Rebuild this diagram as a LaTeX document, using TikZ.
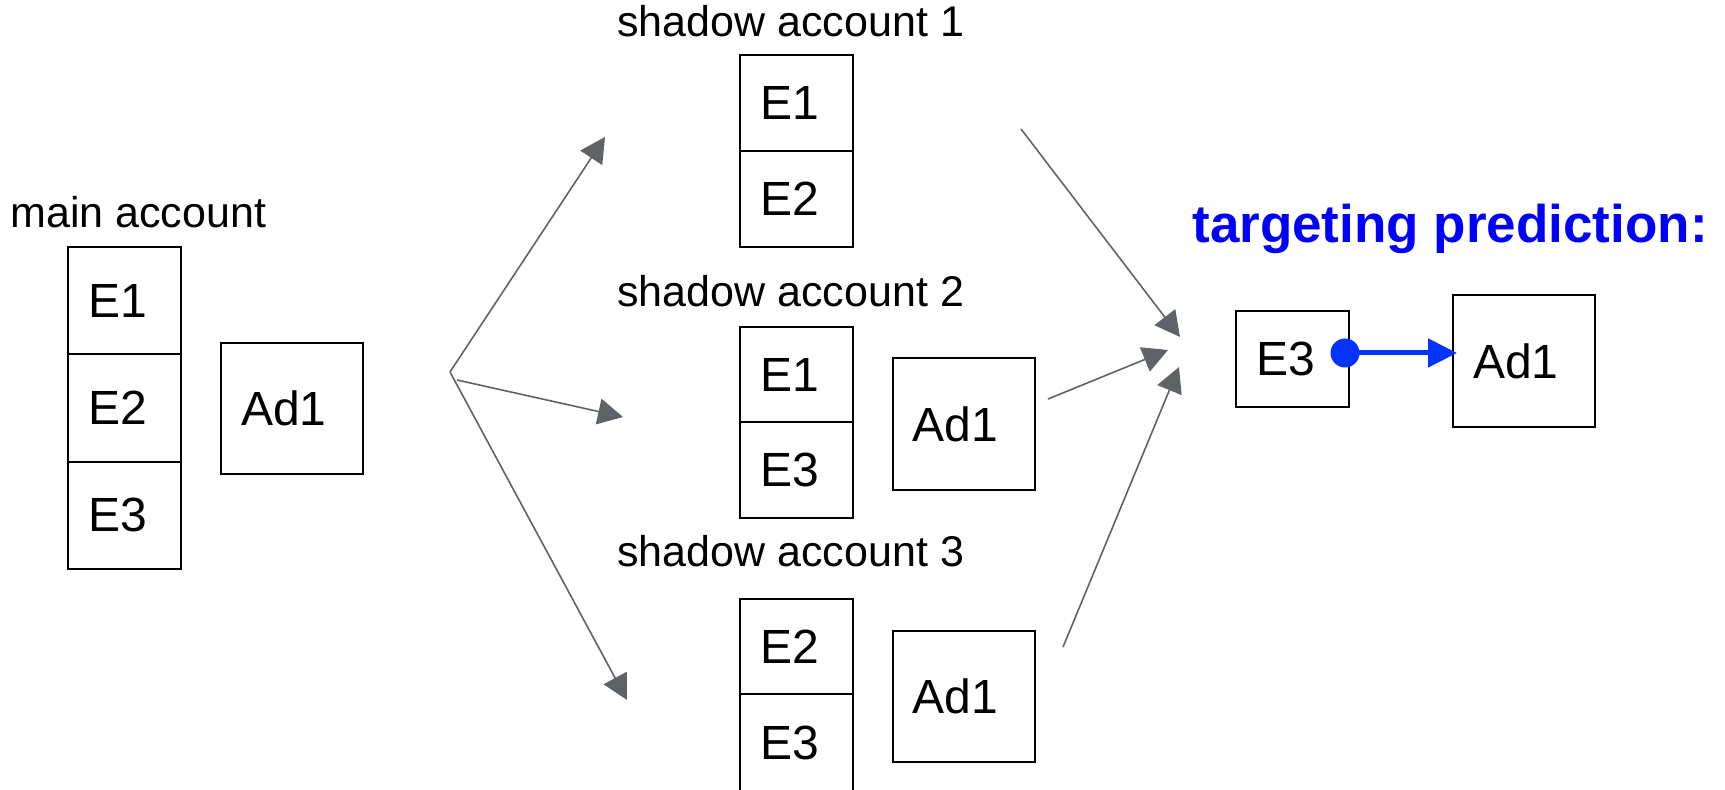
\documentclass[tikz,border=0pt]{standalone}
\usepackage{fontspec}
\setmainfont{Liberation Sans}
\usetikzlibrary{arrows.meta,calc}
\definecolor{edgegray}{HTML}{5F6368}
\definecolor{predblue}{HTML}{0000FF}
\definecolor{linkblue}{HTML}{0433FF}

\begin{document}
\begin{tikzpicture}[x=0.5pt,y=-0.5pt,
  cell/.style={draw=black, line width=1pt, inner xsep=10pt, inner ysep=0pt,
    align=left, font=\fontsize{24}{28}\selectfont, anchor=center},
  ecell/.style={cell, text width=36.5pt, minimum height=#1},
  adbox/.style={cell, text width=51pt, minimum height=#1},
  title/.style={anchor=base west, inner sep=0pt, font=\fontsize{21.5}{25}\selectfont},
  flow/.style={draw=edgegray, line width=0.8pt, -{Triangle[length=12.5pt,width=13pt]}},
]
\useasboundingbox (0,0) rectangle (1725,790);
\clip (0,0) rectangle (1725,790);

% main account
\node[title] (tmain) at (10,228) {main account};
\node[ecell=53.67pt] (m1) at (124.5,300.67) {E1};
\node[ecell=53.67pt] (m2) at (124.5,408) {E2};
\node[ecell=53.67pt] (m3) at (124.5,515.33) {E3};
\node[adbox=65.5pt] (mad) at (292,408.5) {Ad1};

% shadow account 1
\node[title] (ts1) at (617,37) {shadow account 1};
\node[ecell=48pt] (s11) at (796.5,103) {E1};
\node[ecell=48pt] (s12) at (796.5,199) {E2};

% shadow account 2
\node[title] (ts2) at (617,307) {shadow account 2};
\node[ecell=47.75pt] (s21) at (796.5,374.75) {E1};
\node[ecell=47.75pt] (s22) at (796.5,470.25) {E3};
\node[adbox=66pt] (s2ad) at (963.5,424) {Ad1};

% shadow account 3
\node[title] (ts3) at (617,567) {shadow account 3};
\node[ecell=47.75pt] (s31) at (796.5,646.75) {E2};
\node[ecell=48.75pt] (s32) at (796.5,743.25) {E3};
\node[adbox=65.5pt] (s3ad) at (963.5,696.5) {Ad1};

% prediction
\node[title, font=\fontsize{26.5}{31}\selectfont\bfseries, text=predblue] (tpred) at (1192,243) {targeting prediction:};
\node[ecell=48pt] (pe3) at (1292.5,359) {E3};
\node[adbox=66pt] (pad) at (1524,361) {Ad1};

% fan-out to the shadow accounts
\coordinate (fan) at (450,372);
\coordinate (fan2) at (457,380);
\coordinate (to1) at (605,137);
\coordinate (to2) at (623,417);
\coordinate (to3) at (627,700);
\draw[flow] (fan) -- (to1);
\draw[flow] (fan2) -- (to2);
\draw[flow] (fan) -- (to3);

% fan-in to the prediction
\coordinate (from1) at (1021,129);
\coordinate (hit1) at (1180,337);
\coordinate (from2) at (1048,399);
\coordinate (hit2) at (1168,350);
\coordinate (from3) at (1063,647);
\coordinate (hit3) at (1179,367);
\draw[flow] (from1) -- (hit1);
\draw[flow] (from2) -- (hit2);
\draw[flow] (from3) -- (hit3);

% predicted link
\coordinate (dot) at ($(pe3.east)+(-5,-6)$);
\draw[linkblue, line width=2.5pt, -{Triangle[length=14.5pt,width=14pt]}, shorten >=-2.5pt]
  (dot) -- (dot -| pad.west);
\fill[linkblue] (dot) circle[radius=7.25pt];
\end{tikzpicture}
\end{document}
